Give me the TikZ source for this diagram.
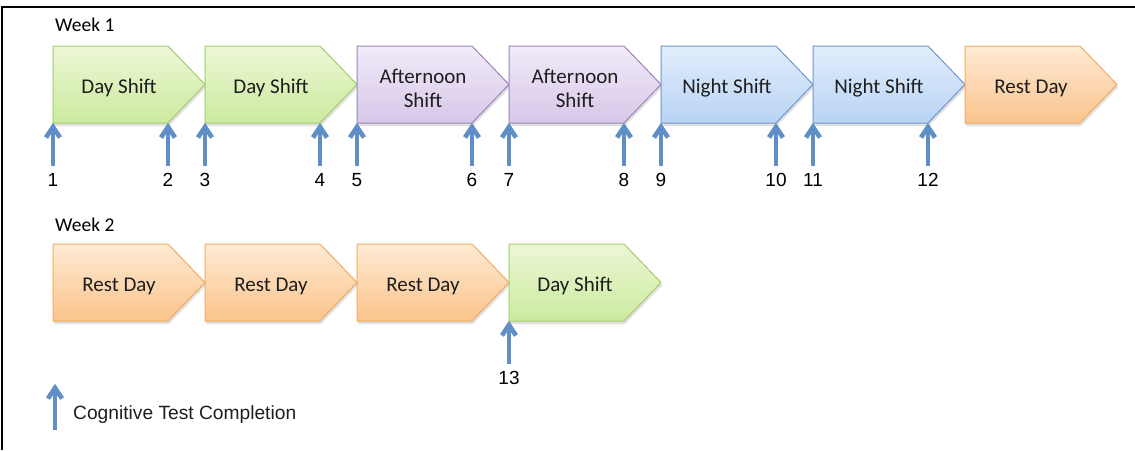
\documentclass[tikz,border=0pt]{standalone}
\usepackage{fontspec}
\setmainfont{Carlito}
\newfontfamily\arialf{Liberation Sans}
\usetikzlibrary{arrows.meta}
\definecolor{grtop}{RGB}{236,247,214}
\definecolor{grbot}{RGB}{204,234,158}
\definecolor{grdraw}{RGB}{166,204,112}
\definecolor{putop}{RGB}{242,235,249}
\definecolor{pubot}{RGB}{214,199,232}
\definecolor{pudraw}{RGB}{152,132,184}
\definecolor{bltop}{RGB}{226,238,252}
\definecolor{blbot}{RGB}{184,211,244}
\definecolor{bldraw}{RGB}{112,150,202}
\definecolor{ortop}{RGB}{254,234,212}
\definecolor{orbot}{RGB}{250,196,140}
\definecolor{ordraw}{RGB}{240,172,102}
\definecolor{arrowblue}{RGB}{95,143,198}
\definecolor{txtdark}{RGB}{30,30,30}
\newcommand\shiftbox[5]{%
  \fill[black,opacity=0.12] (#2+1,#3+3) -- ++(115,0) -- ++(37,38.5) -- ++(-37,38.5) -- ++(-115,0) -- cycle;
  \path[#4] (#2,#3) -- ++(115,0) -- ++(37,38.5) -- ++(-37,38.5) -- ++(-115,0) -- cycle;
  \node[shifttext] (#1) at (#2+66,#3+42) {#5};
  \coordinate (#1bl) at (#2,#3+77);
  \coordinate (#1br) at (#2+115,#3+77);
}
% upward arrow with a thick chevron head, from (base) to (tip)
\newcommand\chevarrow[2]{%
  \draw[testarrow] (#1) -- ([yshift=-2pt]#2);
  \draw[testarrow,line join=miter,miter limit=4] ([xshift=-7pt,yshift=-14.5pt]#2) -- ([yshift=-4pt]#2) -- ([xshift=7pt,yshift=-14.5pt]#2);
}
\newcommand\testmark[4]{%
  \coordinate (#1b) at ([yshift=-43pt]#2);
  \chevarrow{#1b}{#2}
  \node[numlabel,anchor=center] (#1) at ([yshift=-57pt]#2) {#3#4};
}
\begin{document}
\begin{tikzpicture}[x=1pt,y=-1pt,
  shifttext/.style={text=txtdark,align=center,font=\fontsize{21}{24}\selectfont,inner sep=0pt},
  green/.style={draw=grdraw,line width=1pt,top color=grtop,bottom color=grbot},
  purple/.style={draw=pudraw,line width=1pt,top color=putop,bottom color=pubot},
  blueb/.style={draw=bldraw,line width=1pt,top color=bltop,bottom color=blbot},
  orange/.style={draw=ordraw,line width=1pt,top color=ortop,bottom color=orbot},
  testarrow/.style={draw=arrowblue,line width=4.6pt},
  numlabel/.style={font=\arialf\fontsize{19}{20}\selectfont,text=black,inner sep=0pt},
  weeklabel/.style={font=\fontsize{19.5}{22}\selectfont,text=black,anchor=west,inner sep=0pt}]
\useasboundingbox (0,0) rectangle (1135,450);
\coordinate (frameA) at (2,450);
\coordinate (frameB) at (2,7);
\coordinate (frameC) at (1135,7);
\draw[line width=2pt] (frameA) -- (frameB) -- (frameC);
\node[weeklabel] (week1) at (55,25) {Week 1};
\node[weeklabel] (week2) at (55,225) {Week 2};
% row 1
\shiftbox{s1}{53}{46}{green}{Day Shift}
\shiftbox{s2}{205}{46}{green}{Day Shift}
\shiftbox{s3}{357}{46}{purple}{Afternoon\\Shift}
\shiftbox{s4}{509}{46}{purple}{Afternoon\\Shift}
\shiftbox{s5}{661}{46}{blueb}{Night Shift}
\shiftbox{s6}{813}{46}{blueb}{Night Shift}
\shiftbox{s7}{965}{46}{orange}{Rest Day}
% row 2
\shiftbox{r1}{53}{244}{orange}{Rest Day}
\shiftbox{r2}{205}{244}{orange}{Rest Day}
\shiftbox{r3}{357}{244}{orange}{Rest Day}
\shiftbox{r4}{509}{244}{green}{Day Shift}
% test marks
\testmark{m1}{s1bl}{}{1}
\testmark{m2}{s1br}{}{2}
\testmark{m3}{s2bl}{}{3}
\testmark{m4}{s2br}{}{4}
\testmark{m5}{s3bl}{}{5}
\testmark{m6}{s3br}{}{6}
\testmark{m7}{s4bl}{}{7}
\testmark{m8}{s4br}{}{8}
\testmark{m9}{s5bl}{}{9}
\testmark{m10}{s5br}{}{10}
\testmark{m11}{s6bl}{}{11}
\testmark{m12}{s6br}{}{12}
\testmark{m13}{r4bl}{}{13}
% legend
\coordinate (legbot) at (55,430);
\coordinate (legtop) at (55,384);
\chevarrow{legbot}{legtop}
\node[font=\arialf\fontsize{19.2}{22}\selectfont,text=txtdark,anchor=west,inner sep=0pt] (legtext) at (73,415) {Cognitive Test Completion};
\end{tikzpicture}
\end{document}
